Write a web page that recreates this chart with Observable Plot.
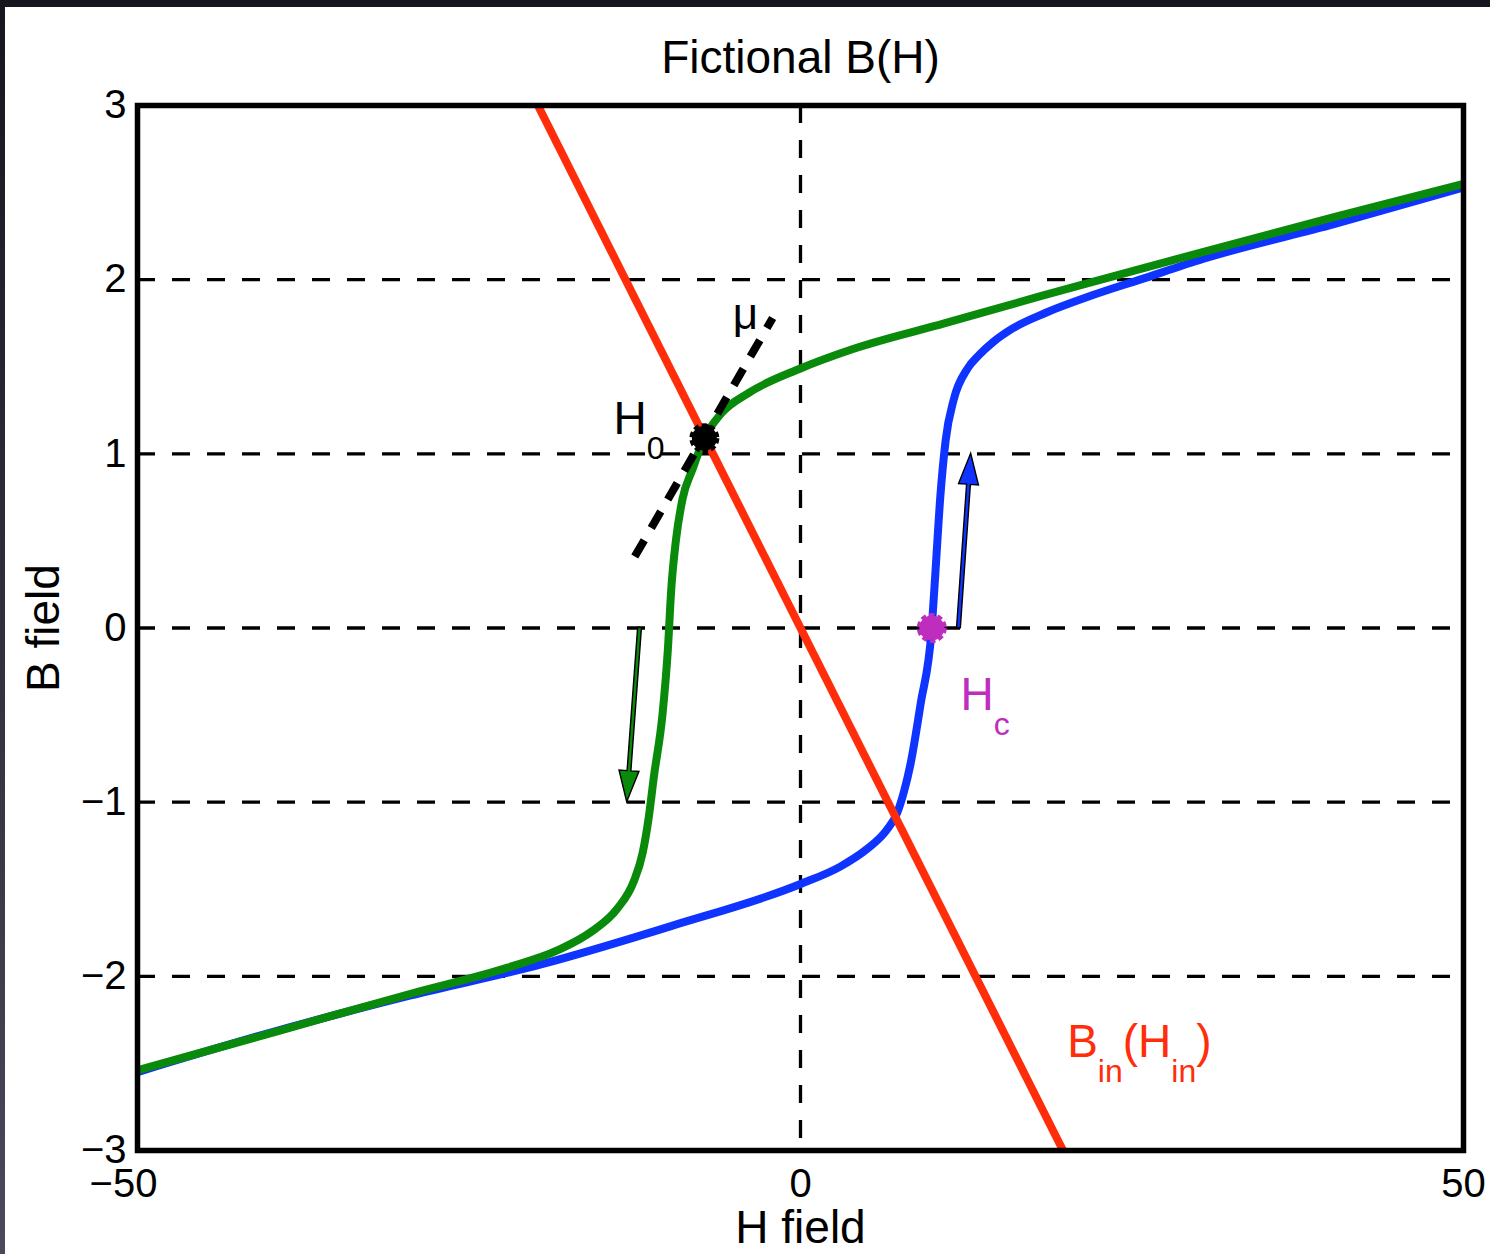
<!DOCTYPE html>
<html>
<head>
<meta charset="utf-8">
<script src="https://cdn.jsdelivr.net/npm/d3@7"></script>
<script src="https://cdn.jsdelivr.net/npm/@observablehq/plot@0.6"></script>
<style>
  html, body { margin: 0; padding: 0; width: 1490px; height: 1254px; overflow: hidden;
    background: linear-gradient(#17151d, #4b495a); }
  #chart { position: absolute; left: 5px; top: 7px; width: 1485px; height: 1247px; background: white; }
</style>
</head>
<body>
<div id="chart"></div>
<script>
// Upper (descending) branch of the hysteresis loop
const greenH = [-50, -39.2, -29.4, -22.1, -18.3, -15.7, -13.8, -12.6, -11.9, -11.45, -11.05, -10.4, -10.0, -9.75, -9.4, -8.9, -8.15, -7.25, -6.0, -3.9, 0, 3.9, 10.9, 18.1, 21.2, 30.4, 40.3, 50];
const greenB = [-2.54, -2.31, -2.10, -1.95, -1.85, -1.74, -1.61, -1.46, -1.29, -1.09, -0.85, -0.49, -0.12, 0.22, 0.50, 0.74, 0.91, 1.09, 1.23, 1.35, 1.49, 1.60, 1.75, 1.905, 1.97, 2.16, 2.36, 2.55];

// Lower (ascending) branch
const blueH = [-50, -40.3, -29.4, -19.5, -9.7, 0, 3.0, 5.0, 6.5, 7.3, 7.8, 8.3, 9.05, 9.9, 10.2, 10.55, 10.95, 11.55, 12.6, 13.5, 14.5, 16, 18.5, 22, 25.6, 30.4, 40.3, 50];
const blueB = [-2.55, -2.33, -2.11, -1.93, -1.71, -1.47, -1.37, -1.27, -1.16, -1.06, -0.94, -0.78, -0.44, 0, 0.35, 0.76, 1.08, 1.31, 1.49, 1.57, 1.64, 1.72, 1.81, 1.91, 2.0, 2.12, 2.32, 2.53];

// Load line B_in(H_in)
const loadH = [-19.8, 19.8];
const loadB = [3, -3];

// Tangent (permeability) at the operating point
const muH = [-12.5, -2.1];
const muB = [0.41, 1.78];

// Operating point H0 and coercive field Hc
const pointH = [-7.25, 9.9];
const pointB = [1.09, 0];
const pointColor = ["black", "#be2dbe"];

// Direction arrows along the loop
const arrowH1 = [-12.1, 11.95];
const arrowB1 = [0, 0];
const arrowH2 = [-13.07, 12.87];
const arrowB2 = [-1, 1];
const arrowColor = ["#0a8a0a", "#1034ff"];

// Annotation labels (_{...} marks a subscript)
const labelText = ["H_{0}", "H_{c}", "B_{in}(H_{in})"];
const labelH = [-14.1, 12.07, 20.11];
const labelB = [1.201, -0.389, -2.379];
const labelColor = ["black", "#be2dbe", "#ff2d0a"];

const xTicks = [-50, 0, 50];
const yTicks = [-3, -2, -1, 0, 1, 2, 3];
const gridB = [-2, -1, 0, 1, 2];
const gridH = [0];

const green = greenH.map((h, i) => ({H: h, B: greenB[i]}));
const blue = blueH.map((h, i) => ({H: h, B: blueB[i]}));
const load = loadH.map((h, i) => ({H: h, B: loadB[i]}));
const mu = muH.map((h, i) => ({H: h, B: muB[i]}));
const points = pointH.map((h, i) => ({H: h, B: pointB[i], color: pointColor[i]}));
const arrows = arrowH1.map((h, i) => ({h1: h, b1: arrowB1[i], h2: arrowH2[i], b2: arrowB2[i], color: arrowColor[i]}));
const labels = labelText.map((t, i) => ({text: t, H: labelH[i], B: labelB[i], color: labelColor[i]}));

// Integer tick labels with a true minus sign
const tickFmt = d => (d < 0 ? "\u2212" : "") + Math.abs(d);

// Filled arrows with a thin shaft and a black outline
function arrowMark(index, scales) {
  const g = d3.create("svg:g").attr("aria-label", "arrows");
  const sw = 1.9, hl = 31, hw = 10;
  for (const a of arrows) {
    const x1 = scales.x(a.h1), y1 = scales.y(a.b1), x2 = scales.x(a.h2), y2 = scales.y(a.b2);
    const L = Math.hypot(x2 - x1, y2 - y1);
    const ux = (x2 - x1) / L, uy = (y2 - y1) / L;
    const nx = -uy, ny = ux;
    const bx = x2 - ux * hl, by = y2 - uy * hl;
    const pts = [
      [x1 + nx * sw, y1 + ny * sw],
      [bx + nx * sw, by + ny * sw],
      [bx + nx * hw, by + ny * hw],
      [x2, y2],
      [bx - nx * hw, by - ny * hw],
      [bx - nx * sw, by - ny * sw],
      [x1 - nx * sw, y1 - ny * sw]
    ];
    g.append("path")
      .attr("d", "M" + pts.map(p => p.join(",")).join("L") + "Z")
      .attr("fill", a.color)
      .attr("stroke", "black")
      .attr("stroke-width", 1.4)
      .attr("stroke-linejoin", "miter");
  }
  return g.node();
}

const font = "'Liberation Sans', Arial, Helvetica, sans-serif";

const chart = Plot.plot({
  width: 1485,
  height: 1247,
  marginLeft: 132,
  marginRight: 27,
  marginTop: 98,
  marginBottom: 104,
  x: {domain: [-50, 50]},
  y: {domain: [-3, 3]},
  style: {fontFamily: font, fontSize: "40px", background: "white", color: "black", overflow: "visible"},
  marks: [
    Plot.ruleY(gridB, {stroke: "black", strokeWidth: 3.3, strokeDasharray: "18,17"}),
    Plot.ruleX(gridH, {stroke: "black", strokeWidth: 3.3, strokeDasharray: "18,17"}),
    Plot.line(blue, {x: "H", y: "B", stroke: "#1034ff", strokeWidth: 8, curve: "monotone-x", strokeLinecap: "butt", clip: true}),
    Plot.line(green, {x: "H", y: "B", stroke: "#0a8a0a", strokeWidth: 8, curve: "monotone-x", strokeLinecap: "butt", clip: true}),
    Plot.line(load, {x: "H", y: "B", stroke: "#ff2d0a", strokeWidth: 8, strokeLinecap: "butt", clip: true}),
    Plot.line(mu, {x: "H", y: "B", stroke: "black", strokeWidth: 8, strokeDasharray: "19,14", strokeLinecap: "butt"}),
    Plot.dot(points, {x: "H", y: "B", r: 12.5, fill: "color", stroke: "color", strokeWidth: 5, strokeDasharray: "5,3"}),
    arrowMark,
    Plot.text(["μ"], {x: [-4.15], y: [1.80], text: d => d, fontSize: 44, fill: "black", textAnchor: "middle", lineAnchor: "middle"}),
    Plot.text(labels, {x: "H", y: "B", text: "text", fill: "color", fontSize: 46, textAnchor: "start", lineAnchor: "middle"}),
    Plot.axisX(xTicks, {tickSize: 0, tickPadding: 18, label: null, fontSize: 40, tickFormat: tickFmt}),
    Plot.axisY(yTicks, {tickSize: 0, tickPadding: 11, label: null, fontSize: 40, tickFormat: tickFmt}),
    Plot.text(["Fictional B(H)"], {text: d => d, frameAnchor: "top", dy: -47.7, fontSize: 46, textAnchor: "middle", lineAnchor: "middle"}),
    Plot.text(["H field"], {text: d => d, frameAnchor: "bottom", dy: 78, fontSize: 46, textAnchor: "middle", lineAnchor: "middle"}),
    Plot.text(["B field"], {text: d => d, frameAnchor: "left", dx: -93.7, rotate: -90, fontSize: 46, textAnchor: "middle", lineAnchor: "middle"}),
    Plot.frame({stroke: "black", strokeWidth: 5.5})
  ]
});

// Turn "_{...}" into lowered, smaller subscript spans
const svgNS = "http://www.w3.org/2000/svg";
chart.querySelectorAll("text").forEach(el => {
  if (!el.textContent.includes("_{")) return;
  const parts = el.textContent.split(/(_\{[^}]*\})/).filter(p => p);
  while (el.firstChild) el.removeChild(el.firstChild);
  let lowered = false;
  for (const p of parts) {
    const t = document.createElementNS(svgNS, "tspan");
    if (p.startsWith("_{")) {
      t.textContent = p.slice(2, -1);
      t.setAttribute("font-size", 32);
      t.setAttribute("dy", 25);
      lowered = true;
    } else {
      t.textContent = p;
      if (lowered) { t.setAttribute("dy", -25); lowered = false; }
    }
    el.appendChild(t);
  }
});

// Negative x tick labels: keep the digits centred on the tick
chart.querySelectorAll("text").forEach(el => {
  if (el.textContent === "\u221250") el.setAttribute("dx", -14);
});

document.getElementById("chart").appendChild(chart);
</script>
</body>
</html>
